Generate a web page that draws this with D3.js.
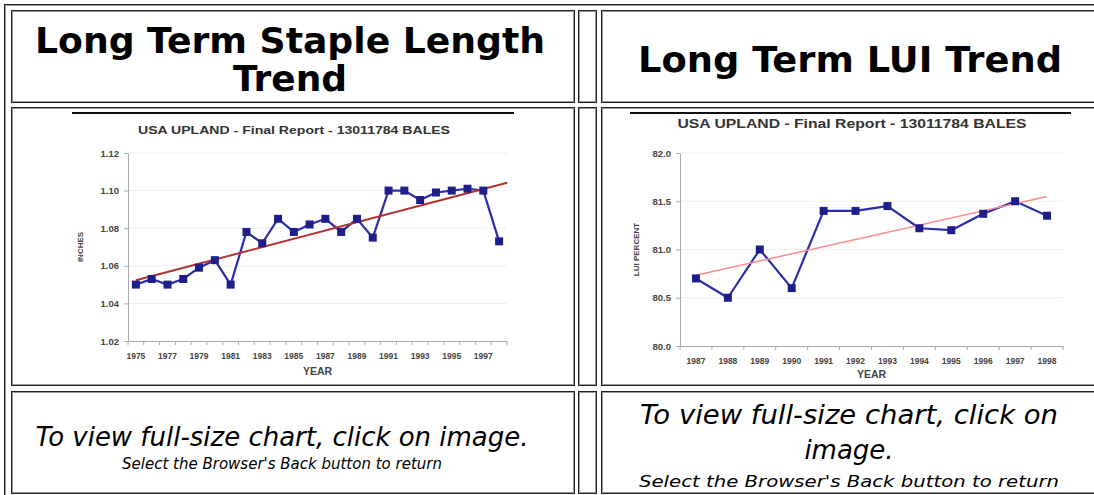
<!DOCTYPE html>
<html>
<head>
<meta charset="utf-8">
<script src="https://cdn.jsdelivr.net/npm/d3@7.9.0/dist/d3.min.js"></script>
<style>
  html, body { margin: 0; padding: 0; background: #fff; overflow: hidden; }
  svg { display: block; }
  .head { font-family: 'DejaVu Sans', Verdana, sans-serif; font-weight: bold; font-size: 36px; fill: #000; }
  .note { font-family: 'DejaVu Sans', Verdana, sans-serif; font-style: italic; font-size: 26px; fill: #000; }
  .small { font-family: 'DejaVu Sans', Verdana, sans-serif; font-style: italic; font-size: 15px; fill: #000; }
  .ctitle { font-family: 'Liberation Sans', Arial, sans-serif; font-weight: bold; fill: #333; }
  .tick text { font-family: 'Liberation Sans', Arial, sans-serif; font-weight: bold; fill: #444; }
  .lab { font-family: 'Liberation Sans', Arial, sans-serif; font-weight: bold; fill: #444; }
</style>
</head>
<body>
<div id="page"></div>
<script>
// staple length chart
const stapleYears = d3.range(1975, 1999);
const stapleInches = [1.050, 1.053, 1.050, 1.053, 1.059, 1.063, 1.050, 1.078, 1.072, 1.085, 1.078, 1.082,
  1.085, 1.078, 1.085, 1.075, 1.100, 1.100, 1.095, 1.099, 1.100, 1.101, 1.100, 1.073];
const stapleTicks = [1.02, 1.04, 1.06, 1.08, 1.10, 1.12];
const stapleLabels = [1975, 1977, 1979, 1981, 1983, 1985, 1987, 1989, 1991, 1993, 1995, 1997];

// LUI chart
const luiYears = d3.range(1987, 1999);
const luiPercent = [80.70, 80.50, 81.00, 80.60, 81.40, 81.40, 81.45, 81.22, 81.20, 81.37, 81.50, 81.35];
const luiTicks = [80.0, 80.5, 81.0, 81.5, 82.0];

const chartTitle = 'USA UPLAND  - Final Report - 13011784 BALES';

const W = 1094, H = 495;
const svg = d3.select('#page').append('svg').attr('width', W).attr('height', H);

// table borders: dark line + grey line, like an old border=1 table
function box(x0, y0, x1, y1) {
  svg.append('rect').attr('x', x0 + 0.5).attr('y', y0 + 0.5).attr('width', x1 - x0).attr('height', y1 - y0)
    .attr('fill', 'none').attr('stroke', '#222').attr('stroke-width', 1);
  svg.append('rect').attr('x', x0 + 1.5).attr('y', y0 + 1.5).attr('width', x1 - x0 - 2).attr('height', y1 - y0 - 2)
    .attr('fill', 'none').attr('stroke', '#999').attr('stroke-width', 1);
}

box(4, 4, 1110, 510);
const cols = [[11, 574], [578, 596], [601, 1098]];
const rows = [[10, 102], [107, 385], [391, 493]];
rows.forEach(r => cols.forEach(c => box(c[0], r[0], c[1], r[1])));

// headers
svg.append('text').attr('class', 'head').attr('x', 290).attr('y', 53).attr('text-anchor', 'middle')
  .attr('textLength', 510).attr('lengthAdjust', 'spacingAndGlyphs').text('Long Term Staple Length');
svg.append('text').attr('class', 'head').attr('x', 290).attr('y', 91).attr('text-anchor', 'middle').text('Trend');
svg.append('text').attr('class', 'head').attr('x', 850).attr('y', 72).attr('text-anchor', 'middle')
  .attr('textLength', 424).attr('lengthAdjust', 'spacingAndGlyphs').text('Long Term LUI Trend');

// footers
svg.append('text').attr('class', 'note').attr('x', 282).attr('y', 446).attr('text-anchor', 'middle')
  .attr('textLength', 493).attr('lengthAdjust', 'spacingAndGlyphs').text('To view full-size chart, click on image.');
svg.append('text').attr('class', 'small').attr('x', 282).attr('y', 469).attr('text-anchor', 'middle')
  .attr('textLength', 320).attr('lengthAdjust', 'spacingAndGlyphs').text("Select the Browser's Back button to return");
svg.append('text').attr('class', 'note').attr('x', 849).attr('y', 424).attr('text-anchor', 'middle')
  .attr('textLength', 418).attr('lengthAdjust', 'spacingAndGlyphs').text('To view full-size chart, click on');
svg.append('text').attr('class', 'note').attr('x', 849).attr('y', 459).attr('text-anchor', 'middle').text('image.');
svg.append('text').attr('class', 'small').attr('x', 849).attr('y', 487).attr('text-anchor', 'middle')
  .attr('textLength', 420).attr('lengthAdjust', 'spacingAndGlyphs').text("Select the Browser's Back button to return");

function renderChart(opt) {
  const g = svg.append('g');
  const { left, right, top, bottom } = opt;

  // black rule at top of the image
  g.append('rect').attr('x', opt.ruleX[0]).attr('y', 112).attr('width', opt.ruleX[1] - opt.ruleX[0]).attr('height', 2).attr('fill', '#111');

  g.append('text').attr('class', 'ctitle').attr('x', opt.titleX).attr('y', opt.titleY)
    .attr('text-anchor', 'middle').style('font-size', opt.titleSize + 'px')
    .attr('textLength', opt.titleLen).attr('lengthAdjust', 'spacingAndGlyphs').text(chartTitle);

  const x = d3.scaleBand().domain(opt.years).range([left, right]);
  const y = d3.scaleLinear().domain(d3.extent(opt.ticks)).range([bottom, top]);

  // faint gridlines
  g.append('g').selectAll('line').data(opt.ticks.slice(1)).join('line')
    .attr('x1', left).attr('x2', right).attr('y1', d => y(d)).attr('y2', d => y(d))
    .attr('stroke', '#eee').attr('stroke-width', 1);

  const yAxis = g.append('g').attr('transform', `translate(${left},0)`)
    .call(d3.axisLeft(y).tickValues(opt.ticks).tickFormat(opt.fmt).tickSize(4).tickPadding(5));
  yAxis.select('.domain').attr('stroke', '#aaa');
  yAxis.selectAll('.tick line').attr('stroke', '#aaa');
  yAxis.selectAll('.tick text').style('font-size', '9.5px');

  const xAxis = g.append('g').attr('transform', `translate(0,${bottom})`)
    .call(d3.axisBottom(x).tickValues(opt.labels).tickSize(0).tickPadding(12));
  xAxis.select('.domain').attr('stroke', '#aaa');
  xAxis.selectAll('.tick text').style('font-size', '8.5px');
  // category boundary marks
  g.append('g').selectAll('line').data(opt.years).join('line')
    .attr('x1', d => x(d)).attr('x2', d => x(d)).attr('y1', bottom).attr('y2', bottom + 4)
    .attr('stroke', '#aaa');
  g.append('line').attr('x1', right).attr('x2', right).attr('y1', bottom).attr('y2', bottom + 4).attr('stroke', '#aaa');

  g.append('text').attr('class', 'lab').attr('x', (left + right) / 2).attr('y', opt.yearY)
    .attr('text-anchor', 'middle').style('font-size', '10.5px').text('YEAR');
  g.append('text').attr('class', 'lab').attr('transform', `translate(${opt.yLabX},${(top + bottom) / 2}) rotate(-90)`)
    .attr('text-anchor', 'middle').style('font-size', '8px').text(opt.yLabel);

  // least-squares trend
  const pts = opt.years.map((yr, i) => [i, opt.values[i]]);
  const mx = d3.mean(pts, d => d[0]), my = d3.mean(pts, d => d[1]);
  const slope = d3.sum(pts, d => (d[0] - mx) * (d[1] - my)) / d3.sum(pts, d => (d[0] - mx) ** 2);
  const cx = d => x(d) + x.bandwidth() / 2;

  const line = d3.line().x(d => cx(d[0])).y(d => y(d[1]));
  const data = opt.years.map((yr, i) => [yr, opt.values[i]]);
  g.append('path').datum(data).attr('d', line).attr('fill', 'none')
    .attr('stroke', '#2c2cae').attr('stroke-width', 2.2).attr('stroke-linejoin', 'round');

  g.append('line')
    .attr('x1', cx(opt.years[0])).attr('y1', y(my - slope * mx))
    .attr('x2', cx(opt.years[opt.years.length - 1]) + opt.trendExt).attr('y2', y(my + slope * (pts.length - 1 - mx + opt.trendExt / x.step())))
    .attr('stroke', opt.trendColor).attr('stroke-width', opt.trendWidth);

  g.append('g').selectAll('rect').data(data).join('rect')
    .attr('x', d => cx(d[0]) - 4).attr('y', d => y(d[1]) - 4)
    .attr('width', 8).attr('height', 8).attr('fill', '#1e1e8a');
}

renderChart({
  years: stapleYears, values: stapleInches, ticks: stapleTicks, labels: stapleLabels,
  fmt: d3.format('.2f'), left: 128, right: 507, top: 153, bottom: 341,
  ruleX: [72, 514], titleX: 294, titleY: 134, titleSize: 11.5, titleLen: 312,
  yearY: 375, yLabX: 83, yLabel: 'INCHES',
  trendColor: '#b3322b', trendWidth: 2, trendExt: 8
});

renderChart({
  years: luiYears, values: luiPercent, ticks: luiTicks, labels: luiYears,
  fmt: d3.format('.1f'), left: 680, right: 1063, top: 153, bottom: 346,
  ruleX: [630, 1071], titleX: 852, titleY: 128, titleSize: 13, titleLen: 349,
  yearY: 378, yLabX: 639, yLabel: 'LUI PERCENT',
  trendColor: '#ff8a8a', trendWidth: 1.5, trendExt: 0
});
</script>
</body>
</html>
